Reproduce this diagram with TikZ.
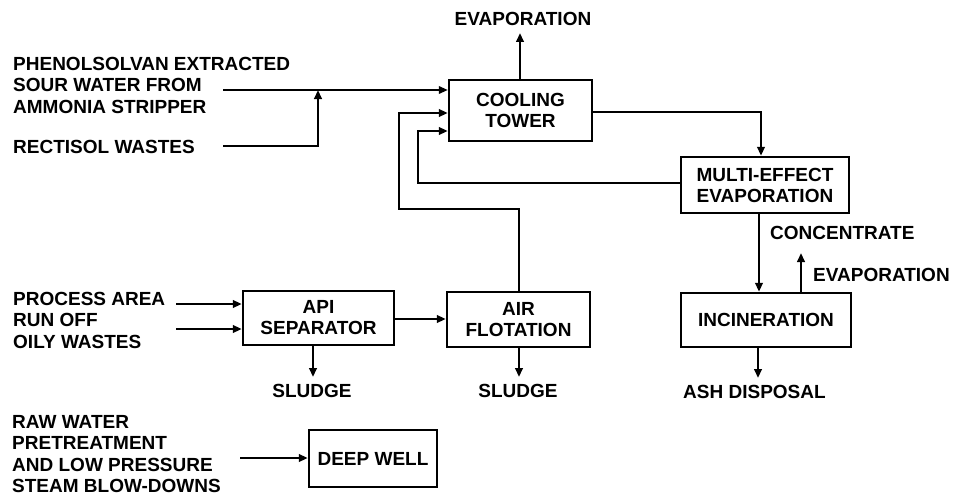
\documentclass[tikz,border=0pt]{standalone}
\usepackage{fontspec}
\setmainfont{Liberation Sans}
\usetikzlibrary{arrows.meta}
\begin{document}
\begin{tikzpicture}[x=1pt,y=-1pt,
  lab/.style={font=\bfseries\fontsize{19}{21.5}\selectfont,inner sep=0pt,align=left},
  blk/.style={draw,line width=2.4pt,font=\bfseries\fontsize{19}{21}\selectfont,align=center,inner sep=0pt},
  arr/.style={line width=2.8pt,-{Triangle[length=9pt,width=7.5pt]}}]
\useasboundingbox (0,0) rectangle (956,495);
% boxes
\node[blk,minimum width=143pt,minimum height=61pt] (cool) at (520.5,110.5) {COOLING\\TOWER};
\node[blk,minimum width=168pt,minimum height=56pt] (multi) at (765,185) {MULTI-EFFECT\\EVAPORATION};
\node[blk,minimum width=151pt,minimum height=54pt] (api) at (318.5,318) {API\\SEPARATOR};
\node[blk,minimum width=143pt,minimum height=55pt] (air) at (518.5,319.5) {AIR\\FLOTATION};
\node[blk,minimum width=128pt,minimum height=57pt] (deep) at (373,458.5) {DEEP WELL};
\node[blk,minimum width=170pt,minimum height=54pt] (inc) at (766,320) {INCINERATION};
% labels
\node[lab,anchor=south] (evtop) at (523,26) {EVAPORATION};
\node[lab,anchor=north west] (phen) at (13,57) {PHENOLSOLVAN EXTRACTED\\SOUR WATER FROM\\AMMONIA STRIPPER};
\node[lab,anchor=north west] (rect) at (13,140) {RECTISOL WASTES};
\node[lab,anchor=north west] (conc) at (770,226) {CONCENTRATE};
\node[lab,anchor=north west] (proc) at (13,292) {PROCESS AREA\\RUN OFF\\OILY WASTES};
\node[lab,anchor=north] (sl1) at (312,384) {SLUDGE};
\node[lab,anchor=north] (sl2) at (518,384) {SLUDGE};
\node[lab,anchor=north west] (evr) at (813,268) {EVAPORATION};
\node[lab,anchor=north west] (ash) at (683,385) {ASH DISPOSAL};
\node[lab,anchor=north west] (raw) at (12,415) {RAW WATER\\PRETREATMENT\\AND LOW PRESSURE\\STEAM BLOW-DOWNS};
% free ends
\coordinate (pin) at (223,90);
\coordinate (rin) at (223,146);
\coordinate (rj) at (318,146);
\coordinate (rt) at (318,90);
\coordinate (evt) at (520,33);
\coordinate (c1) at (761,112);
\coordinate (m1) at (418,183);
\coordinate (m2) at (418,131);
\coordinate (a1) at (519,209);
\coordinate (a2) at (399,209);
\coordinate (a3) at (399,113);
\coordinate (ie) at (801,253);
\coordinate (ia) at (758,378);
\coordinate (p1) at (176,304);
\coordinate (p2) at (176,329);
\coordinate (s1) at (313,377);
\coordinate (s2) at (519,377);
\coordinate (din) at (240,458);
% connectors
\draw[arr,line width=2pt] (pin) -- (pin -| cool.west);
\draw[arr] (rin) -- (rj) -- (rt);
\draw[arr] (cool.north -| evt) -- (evt);
\draw[arr] (cool.east |- c1) -- (c1) -- (c1 |- multi.north);
\draw[arr] (multi.west |- m1) -- (m1) -- (m2) -- (m2 -| cool.west);
\draw[arr] (air.north -| a1) -- (a1) -- (a2) -- (a3) -- (a3 -| cool.west);
\draw[arr] (multi.south -| 759,0) -- (inc.north -| 759,0);
\draw[arr] (inc.north -| ie) -- (ie);
\draw[arr] (inc.south -| ia) -- (ia);
\draw[arr] (p1) -- (p1 -| api.west);
\draw[arr] (p2) -- (p2 -| api.west);
\draw[arr] (api.east |- 0,319) -- (air.west |- 0,319);
\draw[arr] (api.south -| s1) -- (s1);
\draw[arr] (air.south -| s2) -- (s2);
\draw[arr] (din) -- (din -| deep.west);
\end{tikzpicture}
\end{document}
